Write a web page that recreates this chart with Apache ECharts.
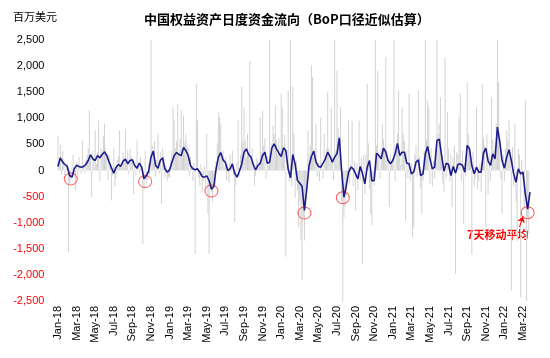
<!DOCTYPE html>
<html>
<head>
<meta charset="utf-8">
<script src="https://cdn.jsdelivr.net/npm/echarts@6/dist/echarts.min.js"></script>
<style>
html,body{margin:0;padding:0;background:#fff;}
#chart{width:550px;height:358px;}
</style>
</head>
<body>
<div id="chart"></div>
<script>
// Month tick labels (each month holds 8 sample slots for daily flows)
const monthLabels = ['Jan-18','Feb-18','Mar-18','Apr-18','May-18','Jun-18','Jul-18','Aug-18','Sep-18','Oct-18','Nov-18','Dec-18',
  'Jan-19','Feb-19','Mar-19','Apr-19','May-19','Jun-19','Jul-19','Aug-19','Sep-19','Oct-19','Nov-19','Dec-19',
  'Jan-20','Feb-20','Mar-20','Apr-20','May-20','Jun-20','Jul-20','Aug-20','Sep-20','Oct-20','Nov-20','Dec-20',
  'Jan-21','Feb-21','Mar-21','Apr-21','May-21','Jun-21','Jul-21','Aug-21','Sep-21','Oct-21','Nov-21','Dec-21',
  'Jan-22','Feb-22','Mar-22'];

// Daily flows (million USD), 8 samples per month
const dailyFlows = [
  [670,150,500,-80,380,220,-150,90],
  [120,-1565,-250,-180,60,300,-120,-380],
  [150,-90,260,80,-60,570,120,-40],
  [180,300,420,1150,260,-510,380,240],
  [770,120,350,960,-200,420,300,650],
  [895,420,260,-180,300,120,-575,-90],
  [420,-300,-150,200,280,770,140,60],
  [350,220,800,120,380,-60,420,280],
  [180,-447,120,-100,575,90,-60,260],
  [60,-1406,-350,380,-250,-180,140,-90],
  [2520,480,320,560,-120,200,700,-60],
  [350,-640,420,280,-150,90,-200,-120],
  [-150,200,380,1214,960,420,560,1278],
  [320,600,1150,380,1050,520,700,480],
  [420,-120,260,80,-200,150,-1600,1660],
  [960,-150,-300,120,-400,-220,80,-350],
  [700,-830,-1600,-250,-420,-600,-180,-300],
  [180,520,1118,1020,895,240,380,60],
  [250,-180,120,-240,300,80,380,-90],
  [-990,-280,160,960,-120,300,1600,540],
  [1214,580,260,700,320,2100,180,420],
  [160,-290,-100,240,180,90,1020,350],
  [1150,480,620,-150,280,90,2520,300],
  [520,860,700,1246,580,300,620,380],
  [1470,1214,420,680,-1650,360,1530,-200],
  [2520,-300,1600,700,-520,180,-380,-1086],
  [-600,-1342,-2100,-900,-1342,-400,-250,770],
  [300,480,2013,1790,260,420,895,-120],
  [150,-200,1020,90,-150,700,300,420],
  [1500,420,180,1214,260,-180,2500,380],
  [1917,800,420,1214,-600,-2500,-900,-700],
  [-480,-150,960,-250,120,960,-300,180],
  [-767,150,-380,960,-200,240,-1790,300],
  [-450,300,1660,520,-350,-830,-1050,-200],
  [-300,2520,480,1917,350,-150,420,895],
  [600,420,2170,380,150,-700,320,180],
  [240,2520,-200,480,700,1530,380,120],
  [1214,700,560,-960,380,-150,1470,-200],
  [150,-1280,-1086,300,480,-120,1530,260],
  [-350,-830,-200,380,2520,600,1342,1214],
  [-256,420,-300,180,-150,380,2520,700],
  [900,1400,300,-250,-400,2170,-150,1118],
  [420,-200,300,-700,250,480,-1980,350],
  [300,1020,1470,-200,380,-1020,150,-120],
  [1690,700,480,180,-1600,350,-300,-150],
  [1214,-350,-200,150,-400,1660,620,480],
  [-1086,700,-450,300,-200,1400,600,380],
  [520,900,2520,1690,650,-150,-830,300],
  [-200,420,760,580,960,380,-2300,450],
  [-300,895,-600,-1342,420,300,-2430,200],
  [-200,-700,1340,-2520,-900,-1200,null,null]
];

// 7-day moving average, 4 samples per month
const movingAvg = [
  [77,243,160,115],[77,-96,-128,32],[102,77,64,77],[115,192,300,224],
  [192,288,243,307],[358,288,160,51],[-51,64,115,77],[179,217,128,192],
  [204,96,45,141],[64,-160,-96,-19],[256,371,96,45],[192,243,32,-32],
  [13,160,288,345],[307,288,440,383],[288,96,32,13],[32,-32,-115,-128],
  [-102,-192,-358,-307],[32,256,345,204],[153,0,32,128],[-51,-128,-13,115],
  [351,415,307,256],[115,13,96,141],[288,351,141,160],[434,511,415,332],
  [268,434,383,32],[-141,307,128,-192],[-243,-307,-767,-351],[96,268,371,160],
  [77,64,141,224],[351,268,160,256],[320,626,0,-511],[-288,-32,64,32],
  [-64,-160,77,-64],[-256,64,192,-200],[-192,330,288,224],[430,351,192,128],
  [192,320,520,288],[351,351,141,128],[-64,-32,160,204],[-96,-64,320,460],
  [224,32,64,575],[601,288,-13,141],[115,-96,77,-51],[115,128,96,-32],
  [480,415,96,-64],[64,-32,-32,332],[430,179,96,320],[224,830,560,192],
  [45,256,400,192],[-64,-224,32,-64],[-32,-447,-740,-415]
];

// Circled lows: [sample index, value]
const lowMarks = [[11,-163],[75,-211],[132,-393],[212,-814],[245,-521],[404,-808]];
const arrowFrom = [397,-1083];
const arrowTo = [400,-881];

const yTicks = {min:-2500, max:2500, step:500};
const SLOTS = 8;

const categories = [];
const barData = [];
const lineData = [];
monthLabels.forEach((lab, m) => {
  for (let k = 0; k < SLOTS; k++) {
    categories.push(lab + '#' + k);
    barData.push(dailyFlows[m][k]);
    lineData.push(null);
  }
});
movingAvg.forEach((row, m) => {
  row.forEach((v, q) => { lineData[m*SLOTS + q*2] = v; });
});

const chart = echarts.init(document.getElementById('chart'), null, {renderer:'canvas'});
const latin = '"Liberation Sans", Arial, sans-serif';
const cjk = '"Noto Sans CJK SC", "Liberation Sans", sans-serif';

chart.setOption({
  animation:false,
  backgroundColor:'#fff',
  title:{
    text:'中国权益资产日度资金流向（BoP口径近似估算）',
    left:139, top:8,
    textStyle:{fontFamily:cjk, fontSize:13, fontWeight:'bold', color:'#000'}
  },
  graphic:[
    {type:'text', left:13, top:11, style:{text:'百万美元', font:'11px ' + cjk, fill:'#000'}},
    {type:'text', left:467, top:229, style:{text:'7天移动平均', font:'bold 11px ' + cjk, fill:'#ff0000'}}
  ],
  grid:{left:57.4, right:18.3, top:40, bottom:57, containLabel:false},
  xAxis:{
    type:'category',
    data:categories,
    boundaryGap:true,
    axisLine:{show:false},
    axisTick:{show:false},
    axisLabel:{
      interval:(i)=> i % (SLOTS*2) === 0,
      rotate:90,
      margin:5,
      fontFamily:latin, fontSize:11, color:'#000',
      formatter:(v)=> v.split('#')[0]
    },
    splitLine:{show:false}
  },
  yAxis:{
    type:'value',
    min:yTicks.min, max:yTicks.max, interval:yTicks.step,
    axisLine:{show:false},
    axisTick:{show:false},
    splitLine:{show:false},
    axisLabel:{
      margin:13,
      fontFamily:latin, fontSize:11,
      color:(v)=> (Number(v) < 0 ? '#ff0000' : '#000'),
      formatter:(v)=> v.toLocaleString('en-US')
    }
  },
  series:[
    {
      type:'bar',
      data:barData,
      barWidth:0.7,
      itemStyle:{color:'#d2d2d2'},
      silent:true
    },
    {
      type:'line',
      data:lineData,
      connectNulls:true,
      showSymbol:false,
      lineStyle:{color:'#1c1c8c', width:1.6},
      silent:true
    },
    {
      type:'scatter',
      data:lowMarks,
      symbol:'circle',
      symbolSize:[13,12],
      itemStyle:{color:'rgba(0,0,0,0)', borderColor:'#ff3030', borderWidth:1},
      silent:true,
      markLine:{
        silent:true,
        symbol:['none','arrow'],
        symbolSize:6,
        label:{show:false},
        lineStyle:{color:'#ff0000', width:1, type:'solid'},
        data:[[{coord:arrowFrom},{coord:arrowTo}]]
      }
    }
  ]
});
</script>
</body>
</html>
